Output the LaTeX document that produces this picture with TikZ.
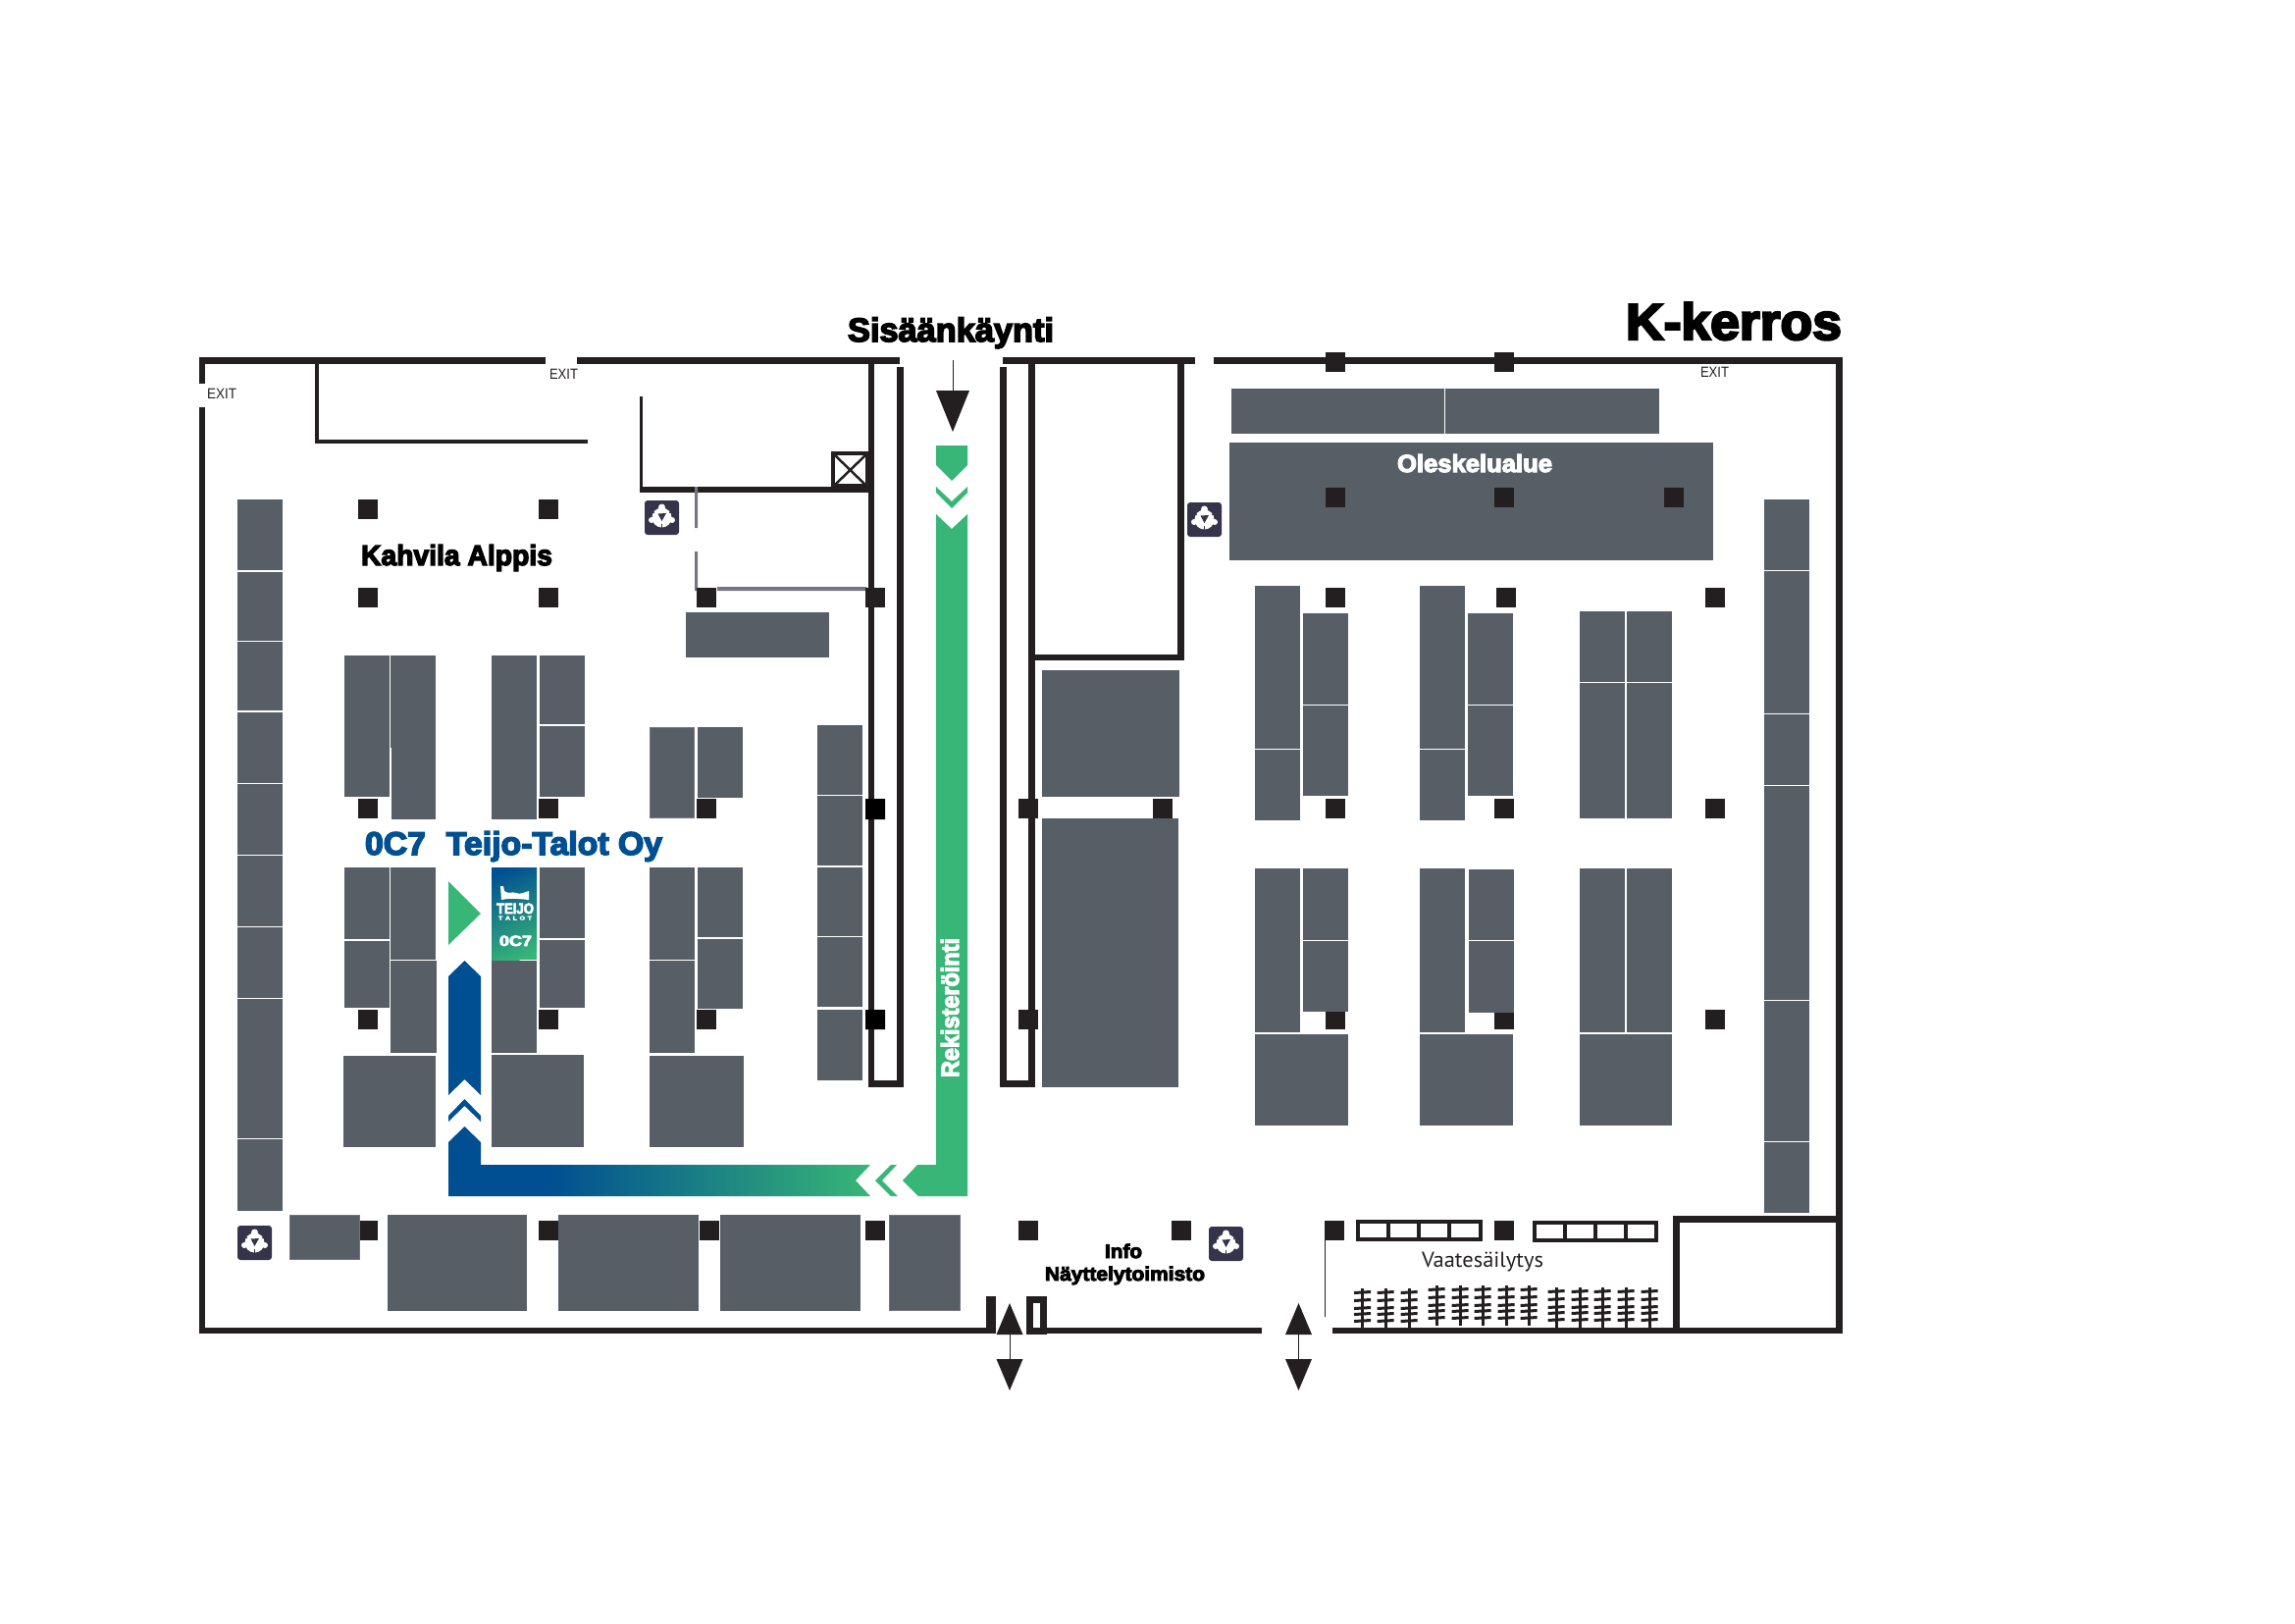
\documentclass[tikz,border=0pt]{standalone}
\usepackage{fontspec}
\usetikzlibrary{shadings}
\setmainfont{Liberation Sans}
\newfontfamily\heavyfam[BoldFeatures={FakeBold=4.5}]{Liberation Sans}
\newcommand\heavy{\heavyfam\bfseries}
\newfontfamily\plainsans{PT Sans}
\definecolor{boothc}{HTML}{575E65}
\definecolor{wallc}{HTML}{231F20}
\definecolor{iconc}{HTML}{35344A}
\definecolor{edgec}{HTML}{77757F}
\definecolor{greenc}{HTML}{38B677}
\definecolor{bluec}{HTML}{004F92}
\pgfdeclarehorizontalshading{routeshade}{100bp}{color(0bp)=(bluec);color(37bp)=(bluec);color(75bp)=(greenc);color(100bp)=(greenc)}
\newcommand\fitw[2]{\resizebox{#1pt}{\height}{#2}}
\newcommand\wl[4]{\fill[wallc] (#1,#2) rectangle (#3,#4);}
\newcommand\pil[2]{\fill[wallc] (#1,#2) rectangle ++(20,20);}
\newcommand\bo[4]{\fill[boothc] (#1,#2) rectangle (#3,#4);}
\newcommand\boe[4]{\fill[boothc,draw=edgec,line width=1pt] (#1+.5,#2+.5) rectangle (#3-.5,#4-.5);}
\newcommand\recy[2]{%
  \fill[iconc,rounded corners=3pt] (#1,#2) rectangle ++(35,35);
  \fill[white] (#1+17.5,#2+17.5) circle (10);
  \fill[white] (#1+7,#2+20) circle (3) (#1+28,#2+20) circle (3) (#1+17.5,#2+7) circle (3.5);
  \fill[iconc] (#1+13.5,#2+13.5) -- (#1+22,#2+13) -- (#1+17.5,#2+21) -- cycle;
  \draw[iconc,line width=.6pt] (#1+17.5,#2+24) -- (#1+17.5,#2+28.5)
     (#1+10,#2+13) -- (#1+7.5,#2+11) (#1+25,#2+13) -- (#1+27.5,#2+11);
}
\newcommand\hanger[3]{%
  \fill[wallc] (#1-1.5,#2) rectangle (#1+1.5,#3);
  \foreach \d in {3,11,19,25,32}{\fill[wallc] (#1-8.5,#2+\d) -- (#1+8.5,#2+\d-1) -- (#1+8.5,#2+\d+2) -- (#1-8.5,#2+\d+3) -- cycle;}
}
\tikzset{lab/.style={anchor=base west,inner sep=0pt,outer sep=0pt}}
\begin{document}
\begin{tikzpicture}[x=1pt,y=-1pt]
\useasboundingbox (0,0) rectangle (2339,1654);
% outer walls
\wl{203}{364}{556}{371}
\wl{588}{364}{917}{371}
\wl{1022}{364}{1218}{371}
\wl{1237}{364}{1878}{371}
\wl{203}{364}{209}{391}
\wl{203}{415}{209}{1359}
\wl{1871}{364}{1878}{1359}
\wl{203}{1353}{1015}{1359}
\wl{1005}{1321}{1015}{1359}
\wl{1067}{1353}{1286}{1359}
\wl{1358}{1353}{1878}{1359}
\draw[wallc,line width=7pt] (1049.5,1324.5) rectangle (1063.5,1356);
% inner walls
\wl{321}{371}{325}{452}
\wl{321}{448}{599}{452}
\wl{652}{404}{655}{502}
\wl{652}{496}{887}{502}
\draw[wallc,line width=4pt] (849,462) rectangle (884,495);
\draw[wallc,line width=2.5pt] (851,464) -- (882,494) (882,464) -- (851,494);
\fill[edgec] (708,496) rectangle (711,538) (708,562) rectangle (711,602) (731,598) rectangle (883,602);
\wl{885}{364}{891}{1108}
\wl{914}{374}{921}{1108}
\wl{885}{1101}{921}{1108}
\wl{1019}{374}{1026}{1108}
\wl{1048}{364}{1055}{1108}
\wl{1019}{1101}{1055}{1108}
\wl{1200}{364}{1207}{673}
\wl{1048}{667}{1207}{673}
\wl{1705}{1239}{1712}{1359}
\wl{1705}{1239}{1878}{1246}
\fill[wallc] (1349.7,1264) rectangle (1350.9,1342);
% pillars
\foreach \px/\py in {1351/359,1523/359,
  365/509,549/509,365/599,549/599,710/599,882/599,
  1351/599,1525/599,1738/599,
  365/814,549/814,710/814,882/814,1038/814,1175/814,1351/814,1523/814,1738/814,
  365/1029,549/1029,710/1029,882/1029,1038/1029,1351/1029,1523/1029,1738/1029,
  365/1244,549/1244,713/1244,882/1244,1038/1244,1194/1244,1350/1244,1523/1244}{\pil{\px}{\py}}
% left column
\foreach \a/\b in {509/581,583/653,654/724,726/798,799/871,872/944,945/1017,1018/1160,1161/1234}{\bo{242}{\a}{288}{\b}}
% right column
\foreach \a/\b in {509/581,582/727,728/800,801/1019,1020/1163,1164/1236}{\bo{1798}{\a}{1844}{\b}}
% left booths
\bo{351}{668}{397}{812}
\bo{398}{668}{444}{762}
\bo{399}{762}{444}{835}
\bo{501}{668}{547}{835}
\bo{550}{668}{596}{738}
\bo{550}{740}{596}{812}
\boe{662}{741}{708}{834}
\bo{711}{741}{757}{813}
\bo{699}{624}{845}{670}
\bo{351}{884}{397}{957}
\bo{351}{959}{397}{1027}
\bo{398}{884}{444}{978}
\bo{398}{979}{445}{1073}
\bo{501}{979}{547}{1073}
\bo{550}{884}{596}{956}
\bo{550}{958}{596}{1027}
\bo{662}{884}{708}{978}
\bo{662}{979}{708}{1073}
\bo{711}{884}{757}{955}
\bo{711}{957}{757}{1028}
\bo{350}{1076}{444}{1169}
\bo{501}{1075}{595}{1169}
\bo{662}{1076}{758}{1169}
% strip booths
\foreach \a/\b in {739/810,811/882,884/954,955/1026,1029/1101}{\bo{833}{\a}{879}{\b}}
\fill[black] (882,814) rectangle ++(20,21) (882,1029) rectangle ++(20,20);
% central booths
\bo{1062}{683}{1202}{812}
\bo{1062}{834}{1201}{1108}
% bottom row
\boe{295}{1238}{367}{1284}
\bo{395}{1238}{537}{1336}
\bo{569}{1238}{712}{1336}
\bo{734}{1238}{877}{1336}
\boe{906}{1238}{979}{1336}
% right booths
\bo{1255}{396}{1472}{442}
\bo{1473}{396}{1691}{442}
\bo{1253}{451}{1746}{571}
\foreach \px in {1351,1523,1696}{\pil{\px}{497}}
\foreach \xa/\xb/\xc/\xd in {1279/1325/1328/1374,1447/1493/1496/1542}{
  \bo{\xa}{597}{\xb}{763}
  \bo{\xa}{764}{\xb}{836}
  \bo{\xc}{625}{\xd}{718}
  \bo{\xc}{719}{\xd}{811}
  \bo{\xa}{885}{\xb}{1052}
}
\bo{1328}{885}{1374}{958}
\bo{1328}{959}{1374}{1031}
\bo{1497}{886}{1543}{958}
\bo{1497}{959}{1543}{1032}
\foreach \xa/\xb in {1610/1656,1658/1704}{
  \bo{\xa}{623}{\xb}{695}
  \bo{\xa}{696}{\xb}{834}
  \bo{\xa}{885}{\xb}{1052}
}
\bo{1279}{1054}{1374}{1147}
\bo{1447}{1054}{1542}{1147}
\bo{1610}{1054}{1704}{1147}
% racks
\draw[wallc,line width=4pt] (1384,1245) rectangle (1509,1263)
  (1415,1245) -- (1415,1263) (1446,1245) -- (1446,1263) (1477,1245) -- (1477,1263);
\draw[wallc,line width=4pt] (1564,1246) rectangle (1688,1264)
  (1595,1246) -- (1595,1264) (1626,1246) -- (1626,1264) (1657,1246) -- (1657,1264);
\foreach \hx in {1388.5,1412,1436}{\hanger{\hx}{1313}{1353}}
\foreach \hx in {1464,1488,1511,1535,1558}{\hanger{\hx}{1310}{1351}}
\foreach \hx in {1586,1610,1633,1657,1681}{\hanger{\hx}{1312}{1353}}
% recycling icons
\recy{657}{510}
\recy{1210}{512}
\recy{242}{1249}
\recy{1232}{1250}
% entrance arrow
\draw[wallc,line width=1pt] (971,367) -- (971,400);
\fill[wallc] (954,398) -- (988,398) -- (971,440) -- cycle;
% double arrows
\foreach \cx in {1029,1323.5}{
  \draw[wallc,line width=1pt] (\cx,1355) -- (\cx,1390);
  \fill[wallc] (\cx,1328) -- (\cx+13.5,1360) -- (\cx-13.5,1360) -- cycle;
  \fill[wallc] (\cx,1417) -- (\cx+13.5,1385) -- (\cx-13.5,1385) -- cycle;
}
% green route
\fill[greenc] (954,454) -- (986,454) -- (986,474) -- (970,490) -- (954,474) -- cycle;
\fill[greenc] (954,496) -- (970,511) -- (986,496) -- (986,502) -- (970,518) -- (954,502) -- cycle;
\fill[greenc] (954,524) -- (970,539) -- (986,524) -- (986,1219) -- (936,1219) -- (920,1203) -- (935,1187) -- (954,1187) -- cycle;
\fill[greenc] (892,1203) -- (908,1187) -- (914,1187) -- (899,1203) -- (915,1219) -- (908,1219) -- cycle;
% blue to green route
\shade[shading=routeshade] (457,1164) -- (473.5,1148) -- (490,1164) -- (490,1187) -- (887,1187) -- (872,1203) -- (887,1219) -- (457,1219) -- cycle;
\fill[bluec] (457,1137) -- (473.5,1120) -- (490,1137) -- (490,1143) -- (473.5,1127) -- (457,1143) -- cycle;
\fill[bluec] (457,995) -- (473.5,979) -- (490,995) -- (490,1116) -- (473.5,1100) -- (457,1116) -- cycle;
\fill[greenc] (457,898) -- (490,931) -- (457,963) -- cycle;
% Teijo booth
\begin{scope}
\clip (501,884) rectangle (547,978);
\fill[greenc] (501,884) rectangle (547,978);
\fill[bluec,rotate around={25:(524,931)}] (440,840) rectangle (610,887);
\foreach \i in {0,...,49}{
  \pgfmathsetmacro\pc{100-2*\i}
  \pgfmathsetmacro\ya{886+\i*1.8}
  \fill[bluec!\pc!greenc,rotate around={25:(524,931)}] (440,\ya) rectangle (610,\ya+2.2);
}
\end{scope}
\fill[white] (510,903) -- (513,903) -- (514,908) .. controls (519,912) and (522,908) .. (526,910) .. controls (530,912) and (535,909) .. (539,908) -- (539,917) .. controls (530,916) and (520,915) .. (511,917) -- cycle;
\node[lab,text=white,font=\heavy\fontsize{15}{15}\selectfont] (logoname) at (506,931) {\fitw{38}{TEIJO}};
\node[lab,text=white,font=\heavy\fontsize{5.5}{5.5}\selectfont] (logosub) at (508,937.5) {\fitw{34}{T\,\,A\,\,L\,\,O\,\,T}};
\node[lab,text=white,font=\heavy\fontsize{15}{15}\selectfont] (logocode) at (509,964) {\fitw{33}{0C7}};
% labels
\node[lab,font=\heavy\fontsize{52}{52}\selectfont] (title) at (1657,346) {\fitw{220}{K-kerros}};
\node[lab,font=\heavy\fontsize{34}{34}\selectfont] (entrance) at (864,348) {\fitw{210}{Sisäänkäynti}};
\node[lab,font=\heavy\fontsize{29}{29}\selectfont] (cafe) at (368,576) {\fitw{195}{Kahvila Alppis}};
\node[lab,text=bluec,font=\heavy\fontsize{33}{33}\selectfont] (exhibitor) at (372,871) {\fitw{303}{0C7\hspace{.62em}Teijo-Talot Oy}};
\node[lab,text=white,font=\heavy\fontsize{25}{25}\selectfont] (lounge) at (1424,481) {\fitw{158}{Oleskelualue}};
\node[lab,rotate=90,text=white,font=\heavy\fontsize{25}{25}\selectfont] (registration) at (977,1098) {\fitw{142}{Rekisteröinti}};
\node[lab,font=\heavy\fontsize{20}{20}\selectfont] (info) at (1126,1282) {\fitw{38}{Info}};
\node[lab,font=\heavy\fontsize{20}{20}\selectfont] (office) at (1065,1305) {\fitw{163}{Näyttelytoimisto}};
\node[lab,text=wallc,font=\plainsans\fontsize{22}{22}\selectfont] (cloak) at (1449,1291) {\fitw{124}{Vaatesäilytys}};
\node[lab,text=wallc,font=\fontsize{15}{15}\selectfont] (exita) at (211,406) {\fitw{30}{EXIT}};
\node[lab,text=wallc,font=\fontsize{15}{15}\selectfont] (exitb) at (560,386) {\fitw{29}{EXIT}};
\node[lab,text=wallc,font=\fontsize{15}{15}\selectfont] (exitc) at (1733,384) {\fitw{29}{EXIT}};
\end{tikzpicture}
\end{document}
